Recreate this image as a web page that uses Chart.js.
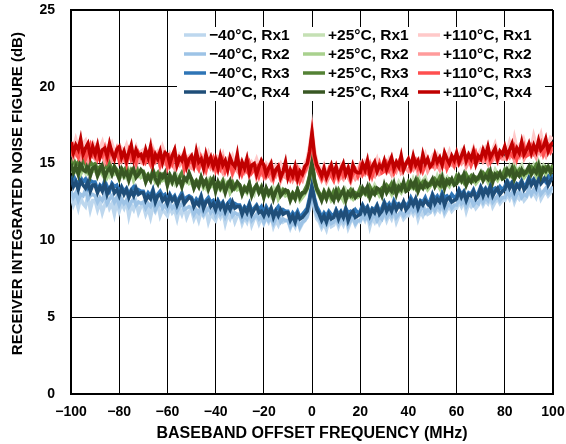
<!DOCTYPE html>
<html>
<head>
<meta charset="utf-8">
<script src="https://cdn.jsdelivr.net/npm/chart.js@4.4.1/dist/chart.umd.min.js"></script>
<style>
html,body{margin:0;padding:0;background:#fff;}
#wrap{position:relative;width:566px;height:444px;}
</style>
</head>
<body>
<div id="wrap"><canvas id="c" width="566" height="444"></canvas></div>
<script>
// ---- DATA ----
const freqs = [-100,-99,-98,-97,-96,-95,-94,-93,-92,-91,-90,-89,-88,-87,-86,-85,-84,-83,-82,-81,
-80,-79,-78,-77,-76,-75,-74,-73,-72,-71,-70,-69,-68,-67,-66,-65,-64,-63,-62,-61,
-60,-59,-58,-57,-56,-55,-54,-53,-52,-51,-50,-49,-48,-47,-46,-45,-44,-43,-42,-41,
-40,-39,-38,-37,-36,-35,-34,-33,-32,-31,-30,-29,-28,-27,-26,-25,-24,-23,-22,-21,
-20,-19,-18,-17,-16,-15,-14,-13,-12,-11,-10,-9,-8,-7,-6,-5,-4,-3,-2,-1,
0,1,2,3,4,5,6,7,8,9,10,11,12,13,14,15,16,17,18,19,
20,21,22,23,24,25,26,27,28,29,30,31,32,33,34,35,36,37,38,39,
40,41,42,43,44,45,46,47,48,49,50,51,52,53,54,55,56,57,58,59,
60,61,62,63,64,65,66,67,68,69,70,71,72,73,74,75,76,77,78,79,
80,81,82,83,84,85,86,87,88,89,90,91,92,93,94,95,96,97,98,99,100];
const xTickLabels = ['\u2212100','\u221280','\u221260','\u221240','\u221220','0','20','40','60','80','100'];
const yTickLabels = ['0','5','10','15','20','25'];
const seriesLabels = ['\u221240\u00B0C, Rx1','\u221240\u00B0C, Rx2','\u221240\u00B0C, Rx3','\u221240\u00B0C, Rx4',
  '+25\u00B0C, Rx1','+25\u00B0C, Rx2','+25\u00B0C, Rx3','+25\u00B0C, Rx4',
  '+110\u00B0C, Rx1','+110\u00B0C, Rx2','+110\u00B0C, Rx3','+110\u00B0C, Rx4'];

const m40Rx1 = [12.9,12.3,12.7,12.1,12.8,12.4,12.2,12.9,12.0,12.6,
12.6,12.0,12.5,11.8,12.3,12.7,12.1,12.4,11.7,12.5,
11.9,12.4,12.1,12.6,11.6,12.3,12.0,12.5,11.8,12.2,
12.3,11.7,12.1,11.5,12.2,11.9,12.4,11.6,12.0,11.8,
11.6,12.2,11.8,12.0,11.4,12.1,11.7,12.2,11.5,11.9,
12.0,11.4,11.8,11.3,11.9,11.6,12.0,11.2,11.7,11.5,
11.3,11.8,11.5,11.9,11.1,11.7,11.4,11.8,11.2,11.6,
11.7,11.1,11.5,11.2,11.8,11.0,11.4,11.6,11.1,11.5,
11.1,11.5,11.2,11.6,10.9,11.3,11.0,11.5,11.2,11.3,
11.3,10.8,11.2,10.9,11.4,10.8,11.1,11.3,11.5,12.1,
13.0,12.0,11.4,11.2,10.8,11.1,10.7,11.3,10.9,11.0,
11.4,10.9,11.3,11.0,11.5,10.8,11.2,11.4,11.0,11.3,
11.2,11.6,11.3,11.7,10.9,11.5,11.2,11.6,11.1,11.4,
11.8,11.3,11.7,11.4,11.9,11.2,11.6,11.8,11.4,11.6,
11.6,12.0,11.7,12.1,11.4,11.9,11.6,12.0,11.7,11.8,
12.2,11.8,12.1,11.9,12.3,11.7,12.0,12.2,11.9,12.1,
12.1,12.5,12.2,12.6,11.9,12.4,12.2,12.5,12.1,12.3,
12.7,12.3,12.6,12.4,12.8,12.2,12.5,12.7,12.4,12.6,
12.6,13.0,12.7,13.1,12.5,12.9,12.7,13.0,12.6,12.8,
13.2,12.9,13.1,12.8,13.3,12.7,13.0,13.2,12.9,13.1,
13.3];
const m40Rx2 = [13.2,12.8,13.1,12.6,13.0,12.9,13.3,12.7,12.9,13.0,
12.9,12.5,12.8,12.6,13.0,12.4,12.7,12.9,12.5,12.8,
12.3,12.7,12.4,12.6,12.2,12.5,12.7,12.3,12.5,12.4,
12.5,12.1,12.4,12.2,12.6,12.0,12.3,12.5,12.1,12.3,
12.0,12.4,12.1,12.3,11.9,12.2,12.4,12.0,12.1,12.2,
12.1,11.7,12.0,11.8,12.2,11.7,11.9,12.1,11.8,12.0,
11.6,12.0,11.7,11.9,11.5,11.8,12.0,11.6,11.8,11.7,
11.7,11.3,11.6,11.4,11.8,11.3,11.5,11.7,11.4,11.6,
11.2,11.6,11.3,11.5,11.1,11.4,11.6,11.2,11.4,11.3,
11.3,10.9,11.2,11.0,11.4,10.9,11.2,11.3,11.6,12.2,
13.1,12.2,11.6,11.4,11.0,11.3,11.0,11.4,11.1,11.2,
11.5,11.1,11.4,11.2,11.6,11.0,11.3,11.5,11.1,11.3,
11.3,11.7,11.4,11.6,11.2,11.5,11.7,11.3,11.6,11.4,
11.9,11.5,11.8,11.6,12.0,11.5,11.7,11.9,11.6,11.8,
11.8,12.2,11.9,12.1,11.7,12.0,12.2,11.8,12.0,11.9,
12.4,12.0,12.3,12.1,12.5,11.9,12.2,12.4,12.1,12.3,
12.3,12.7,12.4,12.6,12.2,12.5,12.7,12.3,12.5,12.4,
12.9,12.5,12.8,12.6,13.0,12.5,12.7,12.9,12.6,12.8,
12.8,13.2,12.9,13.1,12.7,13.0,13.2,12.8,13.0,12.9,
13.4,13.0,13.3,13.1,13.5,13.0,13.2,13.4,13.1,13.3,
13.5];
const m40Rx3 = [13.7,14.2,13.9,13.6,14.1,13.8,14.0,13.5,13.9,13.8,
13.8,13.3,13.6,13.4,13.9,13.5,13.2,13.7,13.5,13.6,
13.1,13.5,13.2,13.4,13.0,13.3,13.5,13.1,13.3,13.2,
13.2,12.8,13.1,12.9,13.3,12.7,13.0,13.2,12.9,13.0,
12.6,13.0,12.7,12.9,12.5,12.8,13.1,12.6,12.8,12.9,
12.8,12.4,12.7,12.5,12.9,12.3,12.6,12.8,12.5,12.6,
12.2,12.6,12.3,12.5,12.1,12.4,12.6,12.2,12.4,12.3,
12.3,11.9,12.2,12.0,12.4,11.9,12.1,12.3,12.0,12.2,
11.8,12.2,11.9,12.1,11.7,12.0,12.2,11.8,12.0,11.9,
11.9,11.5,11.8,11.6,11.9,11.5,11.7,11.9,12.1,12.8,
13.7,12.8,12.2,11.9,11.5,11.8,11.6,11.9,11.7,11.6,
12.0,11.7,11.9,11.6,12.1,11.8,11.9,11.7,12.0,11.8,
11.9,12.3,12.0,12.2,11.8,12.1,12.0,12.3,11.9,12.1,
12.5,12.2,12.4,12.1,12.6,12.3,12.4,12.2,12.5,12.3,
12.4,12.8,12.5,12.7,12.3,12.6,12.5,12.8,12.4,12.6,
13.0,12.7,12.9,12.6,13.1,12.8,12.9,12.7,13.0,12.8,
12.9,13.3,13.0,13.2,12.8,13.1,13.0,13.3,12.9,13.1,
13.5,13.2,13.4,13.1,13.6,13.3,13.4,13.2,13.5,13.3,
13.5,13.9,13.6,13.8,13.4,13.7,13.6,13.9,13.5,13.7,
14.1,13.8,14.0,13.7,14.2,13.9,14.0,13.8,14.2,14.0,
14.3];
const m40Rx4 = [14.1,13.5,13.8,13.3,13.9,13.6,13.4,13.8,13.2,13.6,
13.6,13.1,13.5,13.2,13.7,13.0,13.4,13.6,13.1,13.3,
12.9,13.4,13.0,13.3,12.8,13.2,12.9,13.4,13.0,13.1,
13.1,12.6,12.9,12.7,13.2,12.5,12.9,13.0,12.6,12.8,
12.4,12.9,12.6,12.8,12.3,12.7,12.9,12.4,12.6,12.8,
12.7,12.2,12.5,12.3,12.8,12.1,12.5,12.6,12.2,12.4,
12.0,12.5,12.1,12.4,11.9,12.3,12.0,12.5,12.1,12.2,
12.2,11.7,12.1,11.8,12.3,11.7,12.0,12.2,11.8,11.9,
11.6,12.0,11.7,12.1,11.5,11.9,11.6,12.0,11.7,11.8,
11.8,11.3,11.6,11.2,11.7,11.4,11.5,11.7,11.9,12.6,
13.5,12.6,12.0,11.7,11.3,11.6,11.2,11.7,11.4,11.5,
11.9,11.4,11.8,11.5,12.0,11.3,11.7,11.9,11.5,11.6,
11.7,12.2,11.8,12.1,11.6,12.0,11.8,12.2,11.7,11.9,
12.4,11.9,12.2,11.9,12.4,12.0,12.3,12.1,12.5,12.0,
12.2,12.6,12.3,12.7,12.1,12.5,12.3,12.6,12.4,12.2,
12.9,12.4,12.7,12.5,12.9,12.3,12.7,12.8,12.5,12.6,
12.7,13.2,12.8,13.1,12.6,13.0,12.9,13.2,12.7,12.9,
13.4,12.9,13.3,13.0,13.5,12.9,13.2,13.4,13.0,13.2,
13.3,13.8,13.4,13.7,13.2,13.6,13.4,13.8,13.3,13.5,
14.0,13.6,13.9,13.5,14.1,13.7,13.9,14.2,13.6,13.9,
14.1];

const p25Rx1 = [15.0,14.6,14.8,14.5,14.9,14.7,14.4,14.9,14.6,14.8,
14.7,14.4,14.6,14.3,14.8,14.5,14.2,14.7,14.4,14.6,
14.5,14.2,14.4,14.1,14.6,14.3,14.0,14.5,14.2,14.4,
14.3,14.0,14.2,13.9,14.4,14.1,13.8,14.3,14.0,14.2,
14.1,13.8,14.0,13.7,14.2,13.9,13.6,14.1,13.8,14.0,
13.9,13.6,13.8,13.5,14.0,13.7,13.4,13.9,13.6,13.8,
13.7,13.4,13.6,13.3,13.8,13.5,13.2,13.7,13.4,13.6,
13.5,13.2,13.4,13.1,13.6,13.3,13.0,13.5,13.2,13.4,
13.3,13.0,13.2,12.9,13.4,13.1,12.8,13.3,13.0,13.2,
13.1,12.8,13.0,12.7,13.2,12.9,13.1,13.2,13.6,14.2,
15.1,14.0,13.4,13.1,12.8,13.2,12.9,13.3,13.0,12.9,
13.2,12.9,13.1,12.8,13.3,13.0,12.8,13.2,12.9,13.1,
13.4,13.1,13.3,13.0,13.5,13.2,13.6,13.3,13.1,13.4,
13.6,13.3,13.5,13.2,13.7,13.4,13.8,13.5,13.3,13.6,
13.8,13.5,14.0,13.6,14.2,13.7,13.9,14.1,13.6,13.8,
14.0,13.7,14.2,13.8,14.3,13.9,14.1,13.7,14.0,13.9,
14.2,13.9,14.1,13.8,14.3,14.0,14.2,13.9,14.1,14.0,
14.4,14.1,14.3,14.0,14.5,14.2,14.6,14.3,14.1,14.4,
14.6,14.3,14.8,14.4,15.0,14.5,14.7,14.9,14.4,14.6,
14.8,14.5,14.9,14.6,15.1,14.7,14.9,14.6,14.8,14.7,
14.9];
const p25Rx2 = [14.4,14.8,14.5,14.7,14.3,14.6,14.8,14.4,14.6,14.5,
14.6,14.2,14.5,14.3,14.7,14.1,14.4,14.6,14.3,14.4,
14.0,14.4,14.1,14.3,14.2,14.5,13.9,14.2,14.4,14.1,
14.2,13.8,14.1,13.9,14.3,13.8,14.0,14.2,13.9,14.0,
13.6,14.0,13.7,13.9,13.8,14.1,13.5,13.8,14.0,13.7,
13.8,13.4,13.7,13.5,13.9,13.4,13.6,13.8,13.5,13.6,
13.2,13.6,13.3,13.5,13.4,13.7,13.1,13.4,13.6,13.3,
13.4,13.0,13.3,13.1,13.5,13.0,13.2,13.4,13.1,13.2,
12.8,13.2,12.9,13.1,13.0,13.3,12.7,13.0,13.2,12.9,
13.0,12.6,12.9,12.7,13.1,12.6,12.8,13.0,13.3,14.0,
15.0,13.8,13.2,12.9,12.6,12.9,12.7,13.0,12.6,12.8,
13.0,12.7,12.9,12.6,13.1,12.8,12.9,12.7,13.0,12.8,
12.9,13.2,13.0,13.3,12.8,13.1,13.0,13.2,12.9,13.1,
13.4,13.1,13.3,13.0,13.5,13.2,13.3,13.1,13.4,13.2,
13.3,13.6,13.4,13.7,13.2,13.5,13.4,13.6,13.3,13.5,
13.8,13.5,13.7,13.4,13.9,13.6,13.7,13.5,13.8,13.6,
13.7,14.0,13.8,14.1,13.6,13.9,13.8,14.0,13.7,13.9,
14.2,13.9,14.1,13.8,14.3,14.0,14.1,13.9,14.2,14.0,
14.1,14.4,14.2,14.5,14.0,14.3,14.2,14.4,14.1,14.3,
14.6,14.3,14.5,14.2,14.7,14.4,14.5,14.3,14.6,14.4,
14.6];
const p25Rx3 = [14.8,15.3,14.9,15.1,14.7,15.2,15.0,14.6,15.1,14.9,
15.0,14.6,14.8,14.5,14.9,14.7,15.1,14.4,14.8,14.6,
14.3,14.7,14.5,14.8,14.2,14.6,14.4,14.9,14.3,14.5,
14.5,14.1,14.3,14.0,14.6,14.2,14.4,13.9,14.3,14.2,
13.9,14.3,14.0,14.2,13.8,14.1,14.4,13.9,14.0,14.2,
14.0,13.7,13.9,13.6,14.1,13.8,13.9,13.5,14.0,13.8,
13.4,13.8,13.6,13.9,13.3,13.7,13.5,13.8,13.4,13.6,
13.6,13.2,13.5,13.3,13.7,13.1,13.4,13.6,13.2,13.5,
13.0,13.4,13.1,13.3,12.9,13.2,13.4,13.0,13.3,13.1,
13.2,12.8,13.1,12.9,13.3,12.9,13.0,13.3,13.6,14.2,
15.3,14.0,13.4,13.1,12.8,13.2,12.9,13.1,12.8,13.2,
12.9,13.3,13.0,13.2,12.8,13.1,13.3,12.9,13.1,13.0,
13.4,13.1,13.3,13.0,13.5,13.2,13.4,13.1,13.2,13.4,
13.3,13.6,13.4,13.7,13.2,13.5,13.3,13.6,13.5,13.4,
13.8,13.5,13.7,13.4,13.9,13.6,13.8,13.5,13.7,13.6,
13.7,14.0,13.8,14.1,13.6,13.9,13.7,14.0,13.9,13.8,
14.2,13.9,14.1,13.8,14.3,14.0,14.2,13.9,14.1,14.0,
14.1,14.4,14.2,14.5,14.0,14.3,14.1,14.4,14.3,14.2,
14.6,14.3,14.5,14.2,14.7,14.4,14.6,14.3,14.5,14.4,
14.5,14.8,14.6,14.9,14.4,14.7,14.5,14.8,14.7,14.6,
14.9];
const p25Rx4 = [15.0,14.4,14.8,14.3,15.1,14.6,14.5,14.9,14.2,14.7,
14.8,14.2,14.6,14.9,14.1,14.5,14.7,14.3,14.8,14.4,
14.0,14.6,14.2,14.5,13.9,14.4,14.7,14.1,14.3,14.6,
14.4,13.8,14.2,13.9,14.5,14.0,13.7,14.3,14.1,14.4,
13.6,14.2,13.8,14.3,13.7,14.0,13.5,14.1,13.9,14.4,
14.0,13.4,13.8,13.5,14.1,13.6,13.9,13.3,13.7,14.0,
13.2,13.8,13.4,13.7,13.1,13.6,13.9,13.3,13.5,13.8,
13.6,13.0,13.4,13.2,13.7,12.9,13.3,13.6,13.1,13.4,
12.8,13.4,13.0,13.3,12.7,13.2,13.5,12.9,13.1,13.3,
13.2,12.6,13.0,12.7,13.3,12.8,13.1,13.1,13.4,14.1,
15.2,13.9,13.3,13.0,12.6,13.1,12.7,13.2,12.9,12.6,
13.2,12.7,13.0,13.3,12.6,13.1,12.9,13.2,12.8,13.0,
12.9,13.4,13.1,13.5,12.8,13.2,13.0,13.4,13.3,12.9,
13.6,13.1,13.4,13.2,13.7,13.0,13.5,13.3,13.8,13.2,
13.3,13.8,13.5,13.9,13.2,13.6,13.4,13.8,13.5,13.7,
14.0,13.5,13.8,13.6,14.1,13.4,13.9,13.7,14.0,13.6,
13.7,14.2,13.9,14.3,13.6,14.0,13.8,14.2,13.9,14.1,
14.4,13.9,14.2,14.0,14.5,13.8,14.3,14.1,14.4,14.0,
14.1,14.6,14.3,14.7,14.0,14.4,14.2,14.6,14.3,14.5,
14.8,14.3,14.6,14.4,14.9,14.2,14.7,14.5,14.8,14.4,
14.7];

const p110Rx1 = [16.4,16.0,16.6,16.1,15.9,16.3,16.5,15.8,16.2,16.4,
16.2,15.8,16.0,16.4,15.7,16.1,15.9,16.3,15.8,16.0,
15.6,16.0,15.8,16.2,15.5,15.9,15.7,16.1,15.6,15.8,
15.9,15.5,15.7,15.4,16.0,15.6,15.8,15.5,16.1,15.7,
15.3,15.7,15.5,15.9,15.2,15.6,15.4,15.8,15.3,15.5,
15.6,15.2,15.4,15.8,15.1,15.5,15.3,15.7,15.2,15.4,
15.0,15.4,15.2,15.6,14.9,15.3,15.1,15.5,15.0,15.2,
15.2,14.8,15.0,15.4,14.7,15.1,14.9,15.3,14.8,15.0,
14.6,15.0,14.8,15.1,14.5,14.9,14.7,15.0,14.6,14.8,
14.8,14.4,14.6,14.9,14.3,14.7,14.5,15.0,15.3,16.1,
17.3,15.9,15.1,14.8,14.5,14.9,14.4,14.7,15.0,14.6,
14.8,14.5,14.9,14.6,14.4,14.8,14.7,15.0,14.5,14.7,
15.0,14.7,15.1,14.8,14.6,15.0,14.9,15.3,14.7,14.9,
15.2,14.9,15.3,15.0,14.8,15.2,15.1,15.5,14.9,15.1,
15.3,15.0,15.4,15.1,14.9,15.3,15.2,15.6,15.0,15.2,
15.5,15.2,15.6,15.3,15.1,15.5,15.4,15.8,15.2,15.4,
15.7,15.4,15.8,15.5,15.3,15.7,15.6,16.0,15.4,15.6,
15.9,15.6,16.0,15.7,15.5,15.9,16.3,15.8,15.6,15.8,
16.1,15.8,16.4,15.9,16.7,16.0,16.2,15.8,16.5,16.0,
16.3,16.0,16.8,16.2,16.4,16.9,16.1,16.5,16.3,16.7,
16.6];
const p110Rx2 = [15.9,15.4,15.7,15.5,15.3,15.8,15.6,15.2,15.7,15.5,
15.3,15.7,15.4,15.6,15.1,15.5,15.8,15.2,15.4,15.6,
15.5,15.1,15.3,15.0,15.6,15.2,15.4,14.9,15.3,15.1,
15.0,15.4,15.2,14.9,15.3,15.1,15.5,14.8,15.2,15.0,
15.2,14.8,15.0,14.7,15.1,14.9,15.3,14.6,15.0,14.8,
14.7,15.1,14.8,14.6,15.0,14.9,14.5,15.1,14.7,14.9,
14.9,14.5,14.7,14.4,14.8,14.6,15.0,14.3,14.7,14.5,
14.3,14.7,14.4,14.6,14.2,14.5,14.8,14.1,14.5,14.3,
14.5,14.1,14.3,14.0,14.4,14.2,14.6,13.9,14.3,14.1,
14.0,14.3,13.9,14.2,13.8,14.1,13.9,14.4,14.7,15.5,
16.9,15.4,14.6,14.3,13.9,14.2,13.8,14.1,14.3,14.0,
14.3,13.9,14.2,14.0,14.4,14.1,13.8,14.3,14.0,14.2,
14.2,14.5,14.3,14.6,14.1,14.4,14.2,14.7,14.3,14.4,
14.7,14.4,14.6,14.3,14.8,14.5,14.9,14.4,14.6,14.7,
14.5,14.8,14.6,14.9,14.4,14.7,14.6,15.0,14.5,14.8,
15.0,14.7,14.9,14.6,15.1,14.8,14.7,15.2,14.9,14.8,
14.9,15.2,15.0,15.3,14.8,15.1,15.0,15.4,14.9,15.1,
15.4,15.1,15.3,15.0,15.5,15.2,15.4,15.1,15.6,15.3,
15.3,15.6,15.4,15.7,15.2,15.5,15.4,15.8,15.3,15.6,
15.8,15.5,15.7,15.4,15.9,15.6,15.8,15.5,16.0,15.7,
15.9];
const p110Rx3 = [15.5,16.1,15.7,15.4,16.0,15.9,15.3,15.8,16.2,15.6,
15.9,15.3,15.7,15.5,16.0,15.2,15.6,15.8,15.4,15.9,
15.2,15.7,15.5,15.0,15.8,15.3,15.6,15.1,15.7,15.4,
15.6,15.1,15.4,15.0,15.7,15.2,15.5,14.9,15.3,15.6,
14.8,15.4,15.0,15.5,14.9,15.2,15.4,14.7,15.3,15.0,
15.3,14.8,15.1,14.7,15.4,15.0,14.6,15.2,14.9,15.3,
14.6,15.1,14.7,15.2,14.5,14.9,15.0,14.4,14.8,15.1,
14.9,14.3,14.7,14.5,15.0,14.4,14.6,14.8,14.2,14.7,
14.2,14.7,14.3,14.6,14.0,14.5,14.8,14.1,14.4,14.6,
14.5,14.0,14.4,14.1,14.6,13.9,14.3,14.5,14.9,15.6,
16.8,15.3,14.7,14.3,14.0,14.4,14.1,14.6,14.2,13.9,
14.5,14.1,14.6,14.2,14.4,14.7,14.0,14.3,14.6,14.2,
14.8,14.3,14.6,14.4,14.9,14.2,14.7,14.5,15.0,14.4,
14.5,15.0,14.6,14.9,14.4,14.8,15.1,14.6,14.7,15.0,
15.1,14.6,14.9,15.2,14.7,15.0,14.5,14.9,15.3,14.8,
14.8,15.3,14.9,15.2,15.0,15.4,14.7,15.1,15.3,14.9,
15.5,15.0,15.3,15.6,15.1,15.4,14.9,15.3,15.7,15.2,
15.2,15.7,15.3,15.6,15.1,15.5,15.8,15.3,15.4,15.7,
15.9,15.4,15.7,15.5,16.0,15.3,15.8,15.6,16.1,15.5,
15.6,16.1,15.7,16.0,15.9,16.3,15.6,16.0,16.2,15.8,
16.1];
const p110Rx4 = [16.4,15.7,16.2,15.9,16.6,15.6,16.0,16.3,15.5,16.1,
15.6,16.2,15.4,15.9,16.0,15.5,16.3,15.7,15.3,15.9,
16.1,15.4,15.8,15.2,15.7,16.2,15.3,15.9,15.5,15.6,
15.2,15.9,15.4,16.1,15.0,15.6,15.3,15.8,15.1,15.7,
15.6,15.0,15.5,15.9,14.9,15.4,15.2,15.7,14.8,15.3,
15.5,14.9,15.8,15.1,15.3,14.7,15.6,15.0,15.4,14.8,
15.3,14.7,15.5,14.9,15.2,14.6,15.4,15.0,14.8,15.6,
14.5,15.1,14.7,15.3,14.4,14.9,15.0,14.3,14.8,15.2,
14.9,14.3,14.7,15.0,14.2,14.6,14.8,14.1,14.5,15.1,
14.1,14.6,14.2,14.8,14.0,14.5,14.3,14.8,15.0,15.8,
17.0,15.6,14.9,14.6,14.2,14.7,14.1,14.5,14.9,14.3,
14.8,14.2,14.6,15.0,14.3,14.7,14.1,14.9,14.5,14.4,
14.4,15.0,14.6,15.2,14.3,14.8,15.1,14.5,14.9,14.7,
15.2,14.6,15.0,15.4,14.7,15.1,14.8,15.5,14.6,15.0,
15.3,14.8,15.5,14.9,15.2,14.7,15.6,15.0,15.3,14.8,
15.0,15.6,15.1,15.4,14.9,15.7,15.3,15.0,15.5,15.2,
15.7,15.1,15.5,15.9,15.2,15.6,15.3,15.8,15.0,15.5,
15.3,15.9,15.5,16.1,15.4,15.7,16.0,15.3,15.8,15.6,
16.1,15.5,15.9,16.3,15.6,16.0,15.7,16.4,15.6,15.9,
16.3,15.7,16.2,15.8,16.5,15.9,16.1,16.6,15.8,16.2,
16.4];

const seriesValues = [m40Rx1,m40Rx2,m40Rx3,m40Rx4,p25Rx1,p25Rx2,p25Rx3,p25Rx4,p110Rx1,p110Rx2,p110Rx3,p110Rx4];
const seriesColors = ['#bdd7ee','#9dc3e6','#2e75b6','#1f4e79','#c5e0b4','#a9d18e','#548235','#385723','#ffc9c9','#ff9b9b','#ff4f4f','#c00000'];

// ---- CHART ----
const FONT = '"Liberation Sans", Arial, Helvetica, sans-serif';

const datasets = seriesValues.map((vals, i) => ({
  label: seriesLabels[i],
  data: vals.map((v, k) => ({x: freqs[k], y: v})),
  borderColor: seriesColors[i],
  backgroundColor: seriesColors[i],
  borderWidth: 3.5,
  pointRadius: 0,
  tension: 0,
  fill: false,
  order: seriesValues.length - i
}));

const legendPlugin = {
  id: 'gridLegend',
  afterDatasetsDraw(chart) {
    const ctx = chart.ctx;
    ctx.save();
    ctx.fillStyle = '#fff';
    ctx.fillRect(177, 27, 368, 74);
    const colX = [184, 303, 418];
    const rowY = [35, 54, 73, 92];
    ctx.font = 'bold 15.5px ' + FONT;
    ctx.textBaseline = 'middle';
    ctx.textAlign = 'left';
    chart.data.datasets.forEach((ds, i) => {
      const c = Math.floor(i / 4), r = i % 4;
      const x = colX[c], y = rowY[r];
      ctx.strokeStyle = ds.borderColor;
      ctx.lineWidth = 3.5;
      ctx.beginPath();
      ctx.moveTo(x, y);
      ctx.lineTo(x + 22, y);
      ctx.stroke();
      ctx.fillStyle = '#000';
      ctx.fillText(ds.label, x + 25, y + 1);
    });
    ctx.restore();
  }
};

new Chart(document.getElementById('c'), {
  type: 'line',
  data: { datasets },
  options: {
    responsive: false,
    animation: false,
    events: [],
    layout: { autoPadding: false, padding: { top: 10, right: 13, left: 0, bottom: 0 } },
    plugins: { legend: { display: false }, tooltip: { enabled: false } },
    scales: {
      x: {
        type: 'linear',
        min: -100, max: 100,
        afterFit(s) { s.height = 50; s.paddingLeft = 0; s.paddingRight = 0; },
        ticks: {
          stepSize: 20,
          padding: 10,
          color: '#000',
          font: { family: FONT, size: 14, weight: 'bold' },
          callback: (v) => xTickLabels[Math.round((v + 100) / 20)]
        },
        grid: {
          color: '#000',
          lineWidth: (c) => (c.index === 0 || c.index === 10) ? 2 : 1,
          drawTicks: false
        },
        border: { color: '#000', width: 2 },
        title: {
          display: true,
          text: 'BASEBAND OFFSET FREQUENCY (MHz)',
          color: '#000',
          font: { family: FONT, size: 16, weight: 'bold' },
          padding: { top: 0, bottom: 1 }
        }
      },
      y: {
        min: 0, max: 25,
        afterFit(s) { s.width = 71; s.paddingTop = 0; s.paddingBottom = 0; },
        ticks: {
          stepSize: 5,
          padding: 16,
          color: '#000',
          font: { family: FONT, size: 14, weight: 'bold' },
          callback: (v) => yTickLabels[Math.round(v / 5)]
        },
        grid: {
          color: '#000',
          lineWidth: (c) => (c.index === 0 || c.index === 5) ? 2 : 1,
          drawTicks: false
        },
        border: { color: '#000', width: 2 },
        title: {
          display: true,
          text: '    RECEIVER INTEGRATED NOISE FIGURE (dB)',
          color: '#000',
          font: { family: FONT, size: 15, weight: 'bold' },
          padding: { top: 9, bottom: 0 }
        }
      }
    }
  },
  plugins: [legendPlugin]
});
</script>
</body>
</html>
